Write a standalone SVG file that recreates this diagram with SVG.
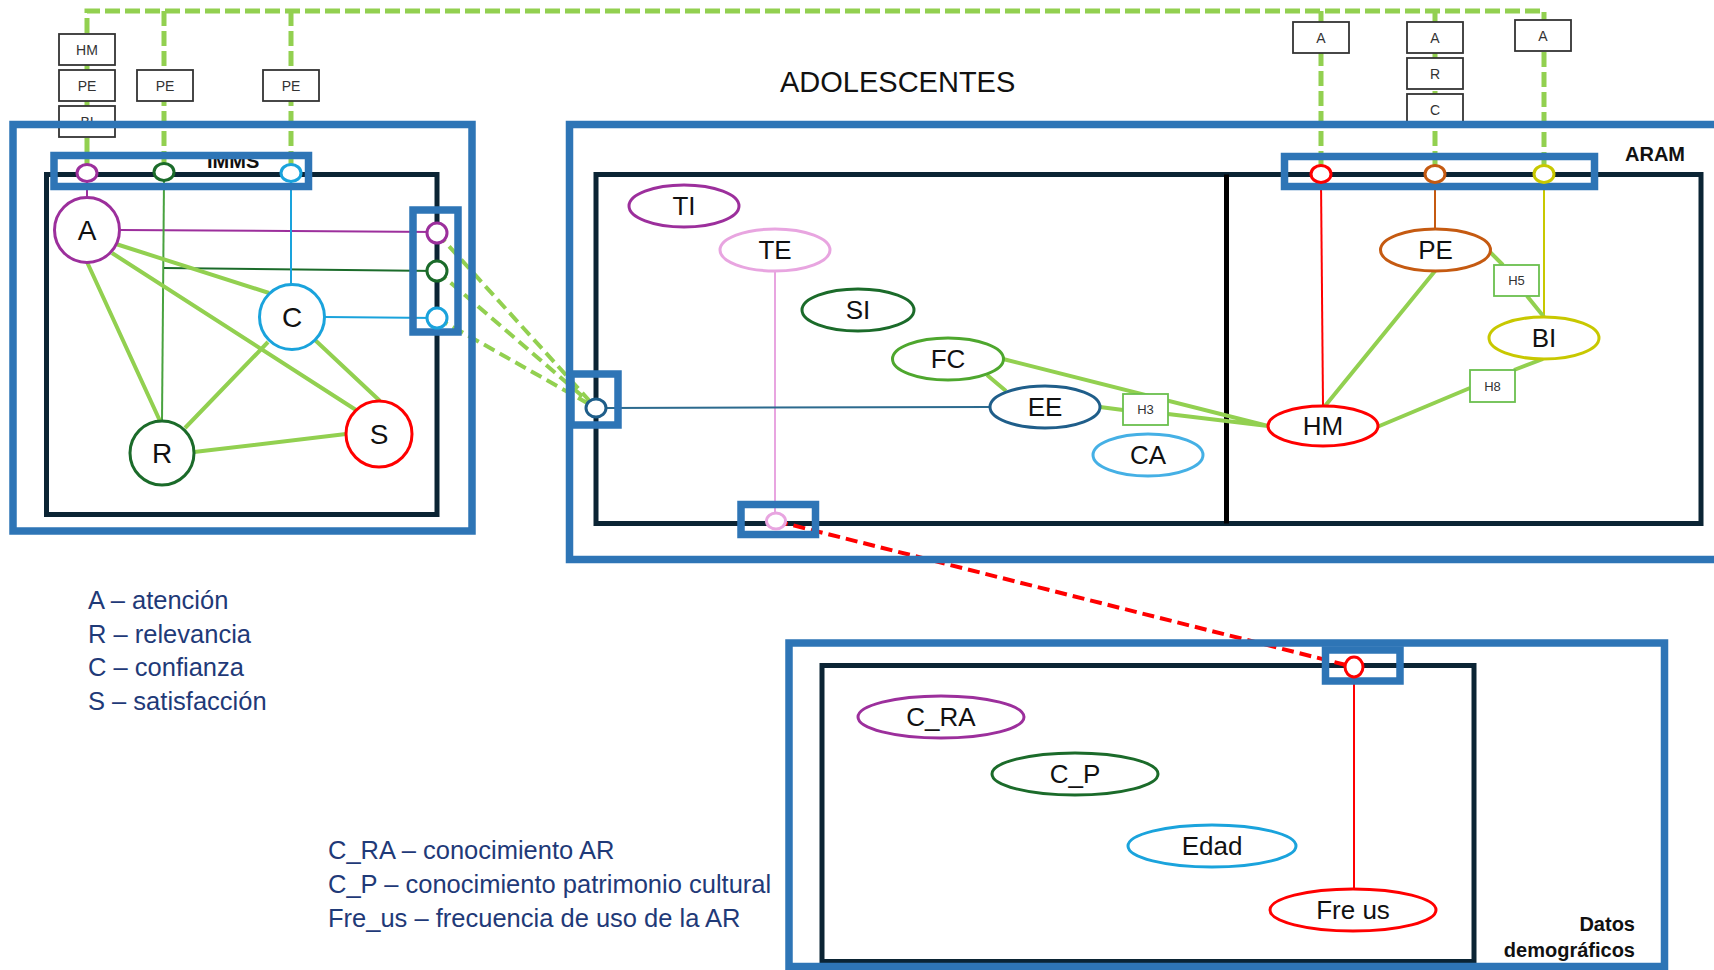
<svg xmlns="http://www.w3.org/2000/svg" width="1714" height="970" viewBox="0 0 1714 970">
<style>
.blue{fill:none;stroke:#2E75B6;stroke-width:7.5}
.dark{fill:none;stroke:#0B2434;stroke-width:5}
.div{stroke:#000;stroke-width:5}
.gd{fill:none;stroke:#92D050;stroke-width:5;stroke-dasharray:15 5}
.gd2{fill:none;stroke:#92D050;stroke-width:4;stroke-dasharray:12 6}
.rd{fill:none;stroke:#FF0000;stroke-width:4;stroke-dasharray:12 6}
.lg{stroke:#92D050;stroke-width:4;fill:none}
.thin{fill:none;stroke-width:2}
.box{fill:#fff;stroke:#333;stroke-width:1.8}
.hbox{fill:#fff;stroke:#6BBF4E;stroke-width:1.8}
.bt{font-family:"Liberation Sans",Arial,sans-serif;font-size:14px;fill:#333;text-anchor:middle}
.ht{font-family:"Liberation Sans",Arial,sans-serif;font-size:13px;fill:#333;text-anchor:middle}
.nt{font-family:"Liberation Sans",Arial,sans-serif;font-size:26px;fill:#111;text-anchor:middle}
.ct{font-family:"Liberation Sans",Arial,sans-serif;font-size:28px;fill:#111;text-anchor:middle}
.node{fill:#fff;stroke-width:3}
.port{fill:#fff;stroke-width:3}
.leg{font-family:"Liberation Sans",Arial,sans-serif;font-size:25.5px;fill:#1F3A78}
.bold{font-family:"Liberation Sans",Arial,sans-serif;font-weight:bold;font-size:20px;fill:#111}
.title{font-family:"Liberation Sans",Arial,sans-serif;font-size:29px;fill:#111}
</style>
<rect width="1714" height="970" fill="#fff"/>

<g id="inner-containers">
<rect class="dark" x="46.5" y="174.5" width="390.5" height="340"/>
<rect class="dark" x="596" y="174.5" width="1105" height="349"/>
<line class="div" x1="1226.5" y1="174.5" x2="1226.5" y2="523.5"/>
<rect class="dark" x="822" y="665.5" width="652" height="296"/>
</g>

<g id="connectors">
<path class="gd" d="M87,173 V11 H1544 V174"/>
<path class="gd" d="M164,11 V172 M291,11 V173 M1321,11 V174 M1435,11 V174"/>
<path class="gd2" d="M437,233 L596,408 M437,271 L596,408 M437,318 L596,408"/>
<path class="rd" d="M776,521 L1354,667"/>
<path class="thin" stroke="#9C2F9C" d="M87,181 V197.5 M119.5,230 L437,232"/>
<path class="thin" stroke="#48A23F" d="M164,180 L162,421"/>
<path class="thin" stroke="#1B6B2A" d="M164,268 L437,271"/>
<path class="thin" stroke="#1AA3DC" d="M291,181 V284.5 M324.5,317 L437,318"/>
<path class="lg" d="M116,244 L269,293 M112,253 L356,410 M87,262 L160,421 M268,342 L185,428 M315,340 L380,401 M194,452 L346,434"/>
<path class="thin" stroke="#E8A5E0" d="M775,271 V513"/>
<path class="thin" stroke="#2C6A8E" d="M606,408 L990,407"/>
<path class="lg" d="M987,375 L1006,391 M1003,359 L1268,426 M1100,407 L1123,410 M1168,414 L1268,426"/>
<path class="thin" stroke="#FF0000" d="M1321,182 L1323,406"/>
<path class="thin" stroke="#C55A11" d="M1435,182 V229"/>
<path class="thin" stroke="#C8C800" d="M1544,182 V317"/>
<path class="lg" d="M1435,271 L1325,406 M1490,252 L1503,265 M1527,296 L1544,317 M1377,427 L1470,388 M1514,370 L1543,359"/>
<path class="thin" stroke="#FF0000" d="M1354,677 V889"/>
</g>

<g id="edge-labels">
<rect class="box" x="59" y="34" width="56" height="31"/><text class="bt" x="87" y="54.5">HM</text>
<rect class="box" x="59" y="70" width="56" height="31"/><text class="bt" x="87" y="90.5">PE</text>
<rect class="box" x="59" y="106" width="56" height="31"/><text class="bt" x="87" y="126.5">BI</text>
<rect class="box" x="137" y="70" width="56" height="31"/><text class="bt" x="165" y="90.5">PE</text>
<rect class="box" x="263" y="70" width="56" height="31"/><text class="bt" x="291" y="90.5">PE</text>
<rect class="box" x="1293" y="22" width="56" height="31"/><text class="bt" x="1321" y="42.5">A</text>
<rect class="box" x="1407" y="22" width="56" height="31"/><text class="bt" x="1435" y="42.5">A</text>
<rect class="box" x="1407" y="58" width="56" height="31"/><text class="bt" x="1435" y="78.5">R</text>
<rect class="box" x="1407" y="94" width="56" height="31"/><text class="bt" x="1435" y="114.5">C</text>
<rect class="box" x="1515" y="20" width="56" height="31"/><text class="bt" x="1543" y="40.5">A</text>
<rect class="hbox" x="1123" y="394" width="45" height="31"/><text class="ht" x="1145.5" y="414">H3</text>
<rect class="hbox" x="1494" y="265" width="45" height="31"/><text class="ht" x="1516.5" y="285">H5</text>
<rect class="hbox" x="1470" y="370" width="45" height="32"/><text class="ht" x="1492.5" y="390.5">H8</text>
</g>

<g id="IMMS">
<text class="bold" x="207" y="168">IMMS</text>
<rect class="blue" x="13" y="124.5" width="459" height="406.5"/>
<rect class="blue" x="54" y="155.5" width="254.5" height="31"/>
<rect class="blue" x="413" y="210" width="45" height="122"/>
</g>

<g id="ADOLESCENTES">
<text class="title" x="780" y="92">ADOLESCENTES</text>
<rect class="blue" x="569.5" y="124.5" width="1160" height="435"/>
<rect class="blue" x="571" y="374" width="47" height="51"/>
<rect class="blue" x="741" y="504.5" width="74.5" height="30"/>
<rect class="blue" x="1284.5" y="156.5" width="310" height="30"/>
<text class="bold" x="1625" y="161">ARAM</text>
</g>

<g id="datos-demograficos">
<rect class="blue" x="789" y="643" width="875.5" height="323.5"/>
<rect class="blue" x="1325.5" y="650" width="74.5" height="31"/>
<text class="bold" x="1635" y="931" text-anchor="end">Datos</text>
<text class="bold" x="1635" y="957" text-anchor="end">demográficos</text>
</g>

<g id="ports">
<ellipse class="port" stroke="#9C2F9C" cx="87" cy="173" rx="10" ry="8.5"/>
<ellipse class="port" stroke="#1B6B2A" cx="164" cy="172" rx="10" ry="8.5"/>
<ellipse class="port" stroke="#1AA3DC" cx="291" cy="173" rx="10" ry="8.5"/>
<circle class="port" stroke="#9C2F9C" cx="437" cy="233" r="10"/>
<circle class="port" stroke="#1B6B2A" cx="437" cy="271" r="10"/>
<circle class="port" stroke="#1AA3DC" cx="437" cy="318" r="10"/>
<ellipse class="port" stroke="#1F5E8A" cx="596" cy="408" rx="10" ry="9"/>
<ellipse class="port" stroke="#E8A5E0" cx="776" cy="521" rx="9.5" ry="8"/>
<ellipse class="port" stroke="#FF0000" cx="1321" cy="174" rx="10" ry="8.5"/>
<ellipse class="port" stroke="#C55A11" cx="1435" cy="174" rx="10" ry="8.5"/>
<ellipse class="port" stroke="#C8C800" cx="1544" cy="174" rx="10" ry="8.5"/>
<ellipse class="port" stroke="#FF0000" cx="1354" cy="667" rx="9" ry="10"/>
</g>

<g id="node-A"><circle class="node" stroke="#9C2F9C" cx="87" cy="230" r="32.5"/><text class="ct" x="87" y="240">A</text></g>
<g id="node-C"><circle class="node" stroke="#1AA3DC" cx="292" cy="317" r="32.5"/><text class="ct" x="292" y="327">C</text></g>
<g id="node-R"><circle class="node" stroke="#1B6B2A" cx="162" cy="453" r="32"/><text class="ct" x="162" y="463">R</text></g>
<g id="node-S"><circle class="node" stroke="#FF0000" cx="379" cy="434" r="33"/><text class="ct" x="379" y="444">S</text></g>

<g id="node-TI"><ellipse class="node" stroke="#9C2F9C" cx="684" cy="206" rx="55" ry="21"/><text class="nt" x="684" y="215">TI</text></g>
<g id="node-TE"><ellipse class="node" stroke="#E8A5E0" cx="775" cy="250" rx="55" ry="21"/><text class="nt" x="775" y="259">TE</text></g>
<g id="node-SI"><ellipse class="node" stroke="#1B6B2A" cx="858" cy="310" rx="56" ry="21"/><text class="nt" x="858" y="319">SI</text></g>
<g id="node-FC"><ellipse class="node" stroke="#4EA72E" cx="948" cy="359" rx="55.5" ry="21"/><text class="nt" x="948" y="368">FC</text></g>
<g id="node-EE"><ellipse class="node" stroke="#1F5E8A" cx="1045" cy="407" rx="55" ry="21"/><text class="nt" x="1045" y="416">EE</text></g>
<g id="node-CA"><ellipse class="node" stroke="#45B0E5" cx="1148" cy="455" rx="55" ry="21"/><text class="nt" x="1148" y="464">CA</text></g>
<g id="node-HM"><ellipse class="node" stroke="#FF0000" cx="1323" cy="426" rx="55" ry="20"/><text class="nt" x="1323" y="435">HM</text></g>
<g id="node-PE"><ellipse class="node" stroke="#C55A11" cx="1435.5" cy="250" rx="55" ry="21"/><text class="nt" x="1435.5" y="259">PE</text></g>
<g id="node-BI"><ellipse class="node" stroke="#C8C800" cx="1544" cy="338" rx="55" ry="21"/><text class="nt" x="1544" y="347">BI</text></g>

<g id="node-C_RA"><ellipse class="node" stroke="#9C2F9C" cx="941" cy="717" rx="83" ry="21"/><text class="nt" x="941" y="726">C_RA</text></g>
<g id="node-C_P"><ellipse class="node" stroke="#1B6B2A" cx="1075" cy="774" rx="83" ry="21"/><text class="nt" x="1075" y="783">C_P</text></g>
<g id="node-Edad"><ellipse class="node" stroke="#1AA3DC" cx="1212" cy="846" rx="84" ry="21"/><text class="nt" x="1212" y="855">Edad</text></g>
<g id="node-Fre_us"><ellipse class="node" stroke="#FF0000" cx="1353" cy="910" rx="83" ry="21"/><text class="nt" x="1353" y="919">Fre us</text></g>

<g id="legend">
<text class="leg" x="88" y="609">A – atención</text>
<text class="leg" x="88" y="643">R – relevancia</text>
<text class="leg" x="88" y="676">C – confianza</text>
<text class="leg" x="88" y="710">S – satisfacción</text>
<text class="leg" x="328" y="859">C_RA – conocimiento AR</text>
<text class="leg" x="328" y="893">C_P – conocimiento patrimonio cultural</text>
<text class="leg" x="328" y="927">Fre_us – frecuencia de uso de la AR</text>
</g>
</svg>
